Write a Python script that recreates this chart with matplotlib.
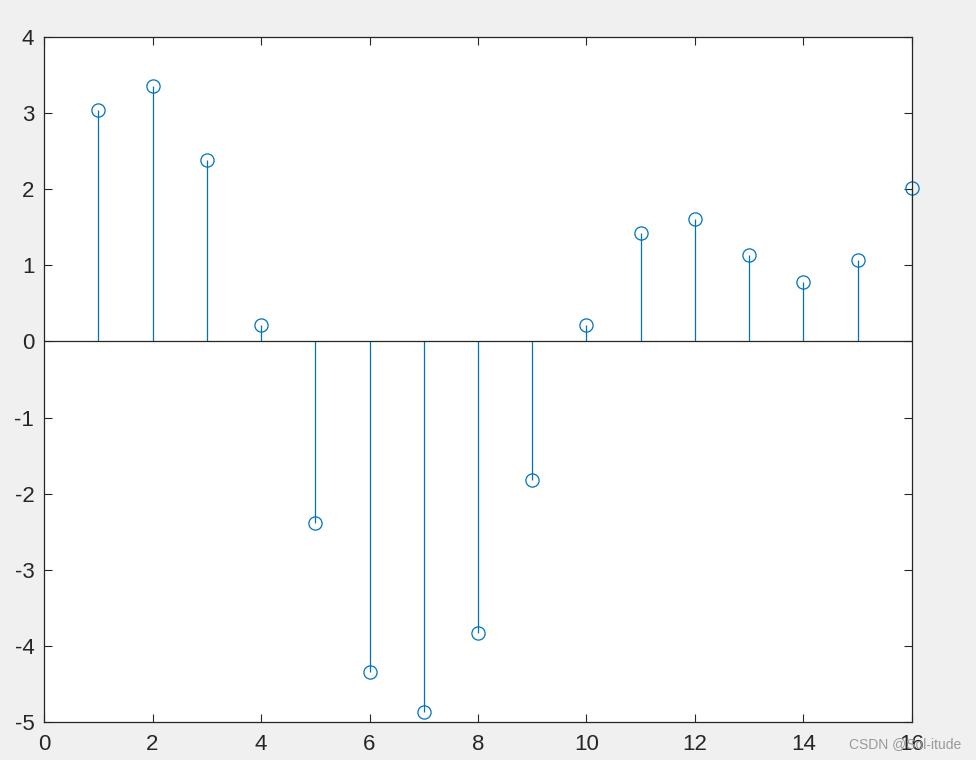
import numpy as np
import matplotlib.pyplot as plt

n = np.arange(1, 17)
y = [3.04, 3.35, 2.38, 0.21, -2.38, -4.34, -4.87, -3.83,
     -1.82, 0.21, 1.43, 1.61, 1.14, 0.78, 1.07, 2.01]
xticks = [0, 2, 4, 6, 8, 10, 12, 14, 16]
yticks = [-5, -4, -3, -2, -1, 0, 1, 2, 3, 4]

plt.rcParams['font.family'] = ['Liberation Sans', 'DejaVu Sans']
plt.rcParams['axes.unicode_minus'] = False
fig = plt.figure(figsize=(9.76, 7.6), dpi=100, facecolor='#f0f0f0')
ax = fig.add_axes([0.0451, 0.05, 0.8893, 0.9013])

blue = '#0072BD'
ml, sl, bl = ax.stem(n, y, basefmt='k-')
plt.setp(sl, color=blue, linewidth=0.9)
plt.setp(ml, color=blue, marker='o', markerfacecolor='none', markersize=9.5,
         markeredgewidth=0.9, clip_on=False)
plt.setp(bl, color='#262626', linewidth=0.9)
bl.set_xdata([0, 16])

ax.set_xlim(0, 16)
ax.set_ylim(-5, 4)
ax.set_xticks(xticks)
ax.set_yticks(yticks)
ax.tick_params(direction='in', length=6, width=0.8, top=True, right=True,
               labelsize=16, colors='#262626')
ax.tick_params(axis='x', pad=9)
ax.tick_params(axis='y', pad=7)
for s in ax.spines.values():
    s.set_color('#262626')
    s.set_linewidth(0.9)

fig.text(0.985, 0.012, 'CSDN @Sol-itude', ha='right', va='bottom', fontsize=10, color='#999999')

fig.savefig('out.png', dpi=100, facecolor=fig.get_facecolor())
